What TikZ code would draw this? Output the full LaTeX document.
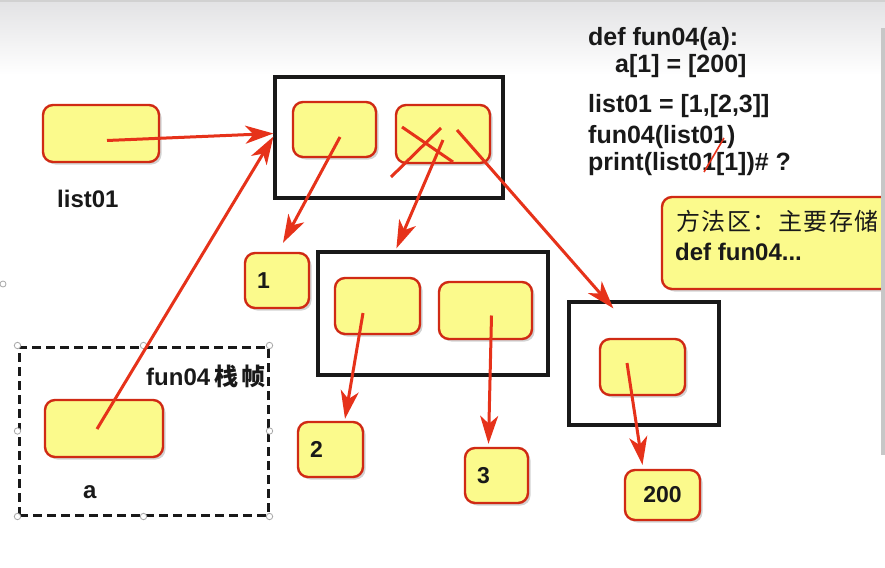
\documentclass[tikz,border=0pt]{standalone}
\usepackage{fontspec}
\setmainfont{Liberation Sans}
\newfontfamily\cjk{Noto Sans CJK SC}
\usetikzlibrary{arrows.meta,shadows,calc}
\definecolor{yfill}{RGB}{251,250,140}
\definecolor{bred}{RGB}{208,42,20}
\definecolor{ared}{RGB}{230,50,26}
\definecolor{topgray}{RGB}{226,226,228}
\definecolor{txt}{RGB}{25,25,25}
\tikzset{
  ybox/.style={draw=bred, fill=yfill, line width=2.4pt, rounded corners=10pt, inner sep=0pt,
    drop shadow={opacity=0.35, shadow xshift=2.5pt, shadow yshift=-2.5pt},
    font=\bfseries\fontsize{23}{27}\selectfont, text=txt},
  frame/.style={draw=black!90, line width=3.2pt, inner sep=0pt},
  dframe/.style={draw=black!90, line width=3pt, dash pattern=on 9pt off 5pt, inner sep=0pt},
  handle/.style={draw=gray!70, fill=white, line width=0.8pt},
  ptr/.style={draw=ared, line width=3pt, -{Stealth[length=28pt,width=18pt,inset=8pt]}},
  strike/.style={draw=ared, line width=3pt},
  code/.style={anchor=base west, inner sep=0pt, font=\bfseries\fontsize{25}{29}\selectfont, text=txt},
  lbl/.style={anchor=base west, inner sep=0pt, font=\bfseries\fontsize{24}{28}\selectfont, text=txt},
}
\begin{document}
\begin{tikzpicture}[x=1pt,y=-1pt]
\clip (0,0) rectangle (885,567);
\fill[white] (0,0) rectangle (885,567);
\shade[top color=topgray, bottom color=white] (0,0) rectangle (885,75);
\fill[black!18] (0,0) rectangle (885,2);

% code
\node[code] (l1) at (588,46) {def fun04(a):};
\node[code] (l2) at (615,73) {a[1] = [200]};
\node[code] (l3) at (588,113) {list01 = [1,[2,3]]};
\node[code] (l4) at (588,143) {fun04(list01)};
\node[code] (l5) at (588,170) {print(list01[1])\# ?};
\draw[ared, line width=1.6pt] (724,138) -- (704,172);

% list01
\node[ybox, minimum width=116pt, minimum height=57pt] (list01) at (101,133.5) {};
\node[lbl] (list01lbl) at (57,207) {list01};

% frame A
\node[frame, minimum width=228pt, minimum height=121pt] (fA) at (389,137.5) {};
\node[ybox, minimum width=83pt, minimum height=55pt] (b1) at (334.5,129.5) {};
\node[ybox, minimum width=94pt, minimum height=58pt] (b2) at (443,134) {};

\node[ybox, minimum width=64pt, minimum height=55pt, text width=40pt, inner xsep=12pt, align=left] (one) at (277,280.5) {1};

% frame B
\node[frame, minimum width=230pt, minimum height=123pt] (fB) at (433,313.5) {};
\node[ybox, minimum width=85pt, minimum height=56pt] (c1) at (377.5,306) {};
\node[ybox, minimum width=93pt, minimum height=57pt] (c2) at (485.5,310.5) {};

\node[ybox, minimum width=65pt, minimum height=55pt, text width=41pt, inner xsep=12pt, align=left] (two) at (330.5,449.5) {2};
\node[ybox, minimum width=63pt, minimum height=55pt, text width=39pt, inner xsep=12pt, align=left] (three) at (496.5,475.5) {3};

% frame C
\node[frame, minimum width=150pt, minimum height=123pt] (fC) at (644,363.5) {};
\node[ybox, minimum width=85pt, minimum height=56pt] (d1) at (642.5,367) {};
\node[ybox, minimum width=75pt, minimum height=50pt] (h200) at (662.5,495) {200};

% stack frame
\node[dframe, minimum width=249pt, minimum height=168pt] (stack) at (143.5,431) {};
\foreach \p in {north west,north,north east,west,east,south west,south,south east}
  \draw[handle] (stack.\p) circle (3.2pt);
\draw[handle] (3,284) circle (3pt);
\node[ybox, minimum width=118pt, minimum height=57pt] (a) at (104,428.5) {};
\node[lbl] (alabel) at (83,498) {a};
\node[lbl] (stacklbl) at (146,385) {fun04{\cjk\fontsize{24}{28}\selectfont\hspace{4pt}栈\hspace{3pt}帧}};

% method area
\node[ybox, minimum width=245pt, minimum height=92pt] (method) at (784.5,243) {};
\node[anchor=base west, inner sep=0pt, font=\cjk\fontsize{24}{28}\selectfont, text=txt] (m1) at (676,230)
  {方\hspace{1.5pt}法\hspace{1.5pt}区\hspace{1.5pt}：\hspace{1.5pt}主\hspace{1.5pt}要\hspace{1.5pt}存\hspace{1.5pt}储};
\node[lbl] (m2) at (675,260) {def fun04...};
\fill[black!22] (881,28) rectangle (885,455);

% arrows
\draw[ptr] ($(list01.center)+(6,7)$) -- ($(fA.west)+(0,-4)$);
\draw[ptr] ($(a.center)+(-7,0.5)$) -- ($(fA.west)+(0,-1)$);
\draw[ptr] ($(b1.center)+(5.5,7.5)$) -- ($(one.north)+(6,-9)$);
\draw[strike] ($(b2.center)+(-52,43)$) -- ($(b2.center)+(-2,-6)$);
\draw[strike] ($(b2.center)+(-41,-7)$) -- ($(b2.center)+(10,28)$);
\draw[ptr] ($(b2.center)+(0,6)$) -- ($(fB.north west)+(80,-2)$);
\draw[ptr] ($(b2.center)+(14,-4)$) -- ($(fC.north west)+(46,8)$);
\draw[ptr] ($(c1.center)+(-14.5,7)$) -- ($(two.north)+(14.5,-2)$);
\draw[ptr] ($(c2.center)+(6,5)$) -- ($(three.north)+(-8,-3)$);
\draw[ptr] ($(d1.center)+(-15.5,-4)$) -- ($(h200.north)+(-20,-4)$);
\end{tikzpicture}
\end{document}
